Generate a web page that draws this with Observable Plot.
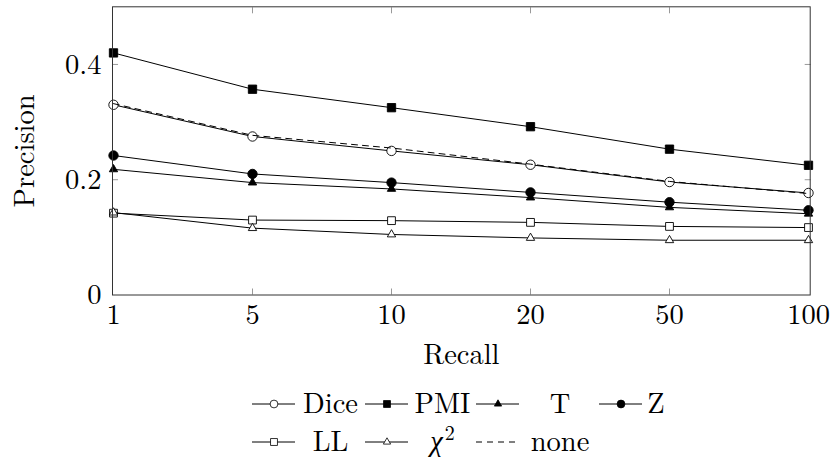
<!DOCTYPE html>
<html>
<head>
<meta charset="utf-8">
<script src="https://cdn.jsdelivr.net/npm/d3@7"></script>
<script src="https://cdn.jsdelivr.net/npm/@observablehq/plot@0.6"></script>
<style>
  html, body { margin: 0; padding: 0; background: #fff; }
  #chart svg { display: block; }
</style>
</head>
<body>
<div id="chart"></div>
<script>
// ---- data ----
const recall = ["1", "5", "10", "20", "50", "100"];
const dice = [0.330, 0.275, 0.250, 0.226, 0.196, 0.177];
const pmi  = [0.420, 0.357, 0.325, 0.292, 0.253, 0.225];
const tSc  = [0.218, 0.195, 0.184, 0.169, 0.152, 0.141];
const zSc  = [0.242, 0.210, 0.195, 0.178, 0.161, 0.147];
const ll   = [0.142, 0.130, 0.129, 0.126, 0.119, 0.117];
const chi2 = [0.143, 0.116, 0.105, 0.099, 0.095, 0.095];
const none = [0.332, 0.277, 0.255, 0.227, 0.197, 0.176];
const yTicks = [0, 0.2, 0.4];
const xTitle = "Recall";
const yTitle = "Precision";

const FONT = "'Latin Modern Roman', 'Liberation Serif', serif";
(function () {
  const c = document.createElement("canvas").getContext("2d");
  for (const f of ["28px 'Latin Modern Roman'", "italic 28px 'Liberation Serif'", "20px 'Latin Modern Roman'"]) {
    c.font = f; c.measureText("Precision Recall 0.4 Dice χ");
  }
})();

// series styling (marker symbol, fill)
const styles = [
  {name: "Dice", vals: dice, symbol: "circle",   fill: "white", r: 4.7},
  {name: "PMI",  vals: pmi,  symbol: "square",   fill: "black", r: 4.7},
  {name: "T",    vals: tSc,  symbol: "triangle", fill: "black", r: 3.1},
  {name: "Z",    vals: zSc,  symbol: "circle",   fill: "black", r: 4.7},
  {name: "LL",   vals: ll,   symbol: "square",   fill: "white", r: 4.4},
  {name: "χ2",   vals: chi2, symbol: "triangle", fill: "white", r: 3.1},
  {name: "none", vals: none, symbol: null,       fill: null,    r: 0, dashed: true}
];

const marks = [];
for (const s of styles) {
  const rows = recall.map((x, i) => ({x, y: s.vals[i], series: s.name}));
  marks.push(Plot.line(rows, {x: "x", y: "y", stroke: "black", strokeWidth: 1,
    strokeDasharray: s.dashed ? "6,5" : null}));
  if (s.symbol) {
    marks.push(Plot.dot(rows, {x: "x", y: "y", symbol: () => s.symbol, r: s.r,
      fill: s.fill, stroke: "black", strokeWidth: 0.9}));
  }
}

const chart = Plot.plot({
  width: 833,
  height: 457,
  marginLeft: 112,
  marginRight: 23.3,
  marginTop: 6.3,
  marginBottom: 162.5,
  style: {fontFamily: FONT, fontSize: "28.5px", color: "black", background: "white"},
  x: {type: "point", domain: recall, padding: 0},
  y: {domain: [0, 0.5]},
  symbol: {type: "identity"},
  marks: [
    // inward tick marks
    Plot.axisY([0.2, 0.4], {anchor: "left", tickSize: 6, dx: 6, tickFormat: () => "", label: null, stroke: "#999"}),
    Plot.axisY([0.2, 0.4], {anchor: "right", tickSize: 6, dx: -6, tickFormat: () => "", label: null, stroke: "#999"}),
    Plot.axisX(recall.slice(1, -1), {anchor: "bottom", tickSize: 6, dy: -6, tickFormat: () => "", label: null, stroke: "#999"}),
    Plot.axisX(recall.slice(1, -1), {anchor: "top", tickSize: 6, dy: 6, tickFormat: () => "", label: null, stroke: "#999"}),
    // tick labels
    Plot.axisY(yTicks, {anchor: "left", tickSize: 0, tickPadding: 11, tickFormat: d => String(d), label: null}),
    Plot.axisX(recall, {anchor: "bottom", tickSize: 0, tickPadding: 9, label: null}),
    // axis titles
    Plot.text([yTitle], {text: d => d, frameAnchor: "left", dx: -88, rotate: -90, textAnchor: "middle", lineAnchor: "middle"}),
    Plot.text([xTitle], {text: d => d, frameAnchor: "bottom", dy: 59.5, textAnchor: "middle", lineAnchor: "middle"}),
    ...marks,
    Plot.frame({stroke: "#333", strokeWidth: 1})
  ]
});
document.getElementById("chart").appendChild(chart);

// ---- legend (inside the chart SVG, 4 columns x 2 rows) ----
const legendOrder = [
  {label: "Dice", symbol: "circle", fill: "white"},
  {label: "PMI", symbol: "square", fill: "black"},
  {label: "T", symbol: "triangle", fill: "black"},
  {label: "Z", symbol: "circle", fill: "black"},
  {label: "LL", symbol: "square", fill: "white"},
  {label: "χ2", symbol: "triangle", fill: "white"},
  {label: "none", symbol: null, dashed: true}
];
// layout of legend columns: [image-cell centre, text-cell centre]
const legendCols = [[274, 330.5], [387, 442.5], [498, 560], [621, 656]];
const legendRows = [404, 442];
const symMap = {circle: d3.symbolCircle, square: d3.symbolSquare, triangle: d3.symbolTriangle};
const lg = d3.select(chart).append("g").attr("class", "legend");
legendOrder.forEach((item, i) => {
  const [cx, tx] = legendCols[i % 4];
  const cy = legendRows[Math.floor(i / 4)];
  const g = lg.append("g");
  g.append("line").attr("x1", cx - 22).attr("x2", cx + 21).attr("y1", cy).attr("y2", cy)
    .attr("stroke", "black").attr("stroke-width", 1)
    .attr("stroke-dasharray", item.dashed ? "6,5" : null);
  if (item.symbol) {
    const rr = item.symbol === "triangle" ? 2.7 : 3.9;
    g.append("path").attr("transform", `translate(${cx},${cy})`)
      .attr("d", d3.symbol(symMap[item.symbol], rr * rr * Math.PI)())
      .attr("fill", item.fill).attr("stroke", "black").attr("stroke-width", 0.8);
  }
  const t = g.append("text").attr("x", tx).attr("y", cy).attr("dy", "0.3em")
    .attr("text-anchor", "middle").attr("fill", "black");
  if (item.label === "χ2") {
    t.append("tspan").attr("font-style", "italic").attr("font-family", "'Liberation Serif', serif").text("χ");
    t.append("tspan").attr("font-size", "20px").attr("dy", "-0.55em").attr("dx", "2").text("2");
  } else {
    t.text(item.label);
  }
});
</script>
</body>
</html>
